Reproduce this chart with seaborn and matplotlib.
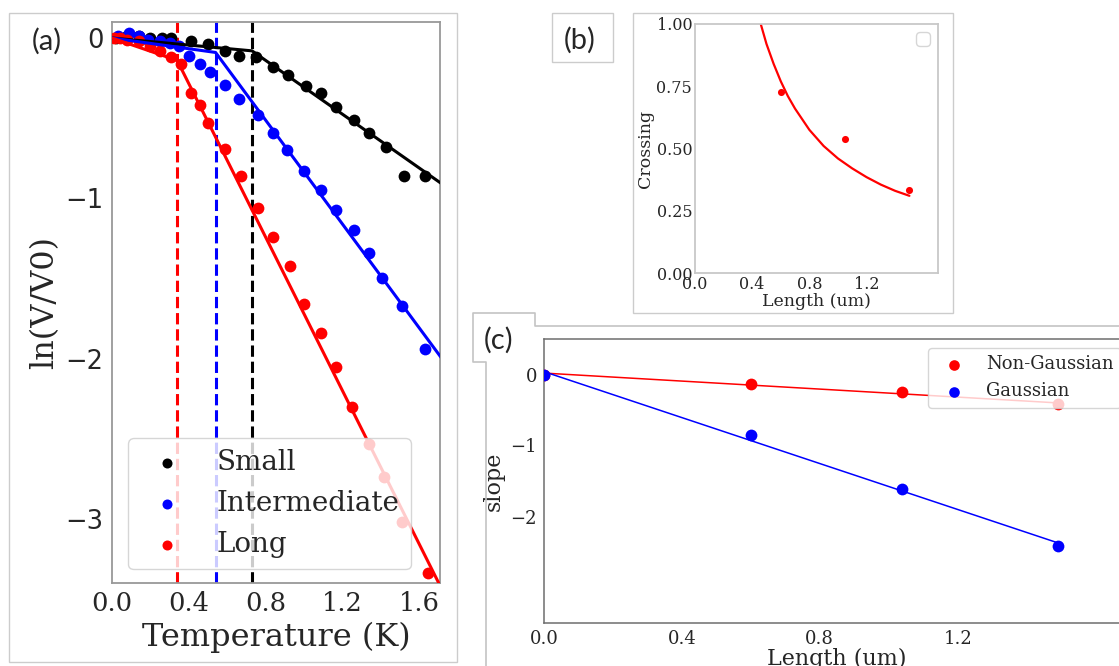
import matplotlib
matplotlib.use("Agg")
import matplotlib.pyplot as plt
import seaborn as sns
from matplotlib.lines import Line2D
from matplotlib.patches import Rectangle

sns.set_style("white")
plt.rcParams['font.family'] = ['DejaVu Serif']

# ---- panel (a): ln(V/V0) vs temperature
small_T = [0.02, 0.08, 0.14, 0.20, 0.26, 0.31, 0.41, 0.50, 0.59, 0.66, 0.75, 0.84, 0.92,
           1.01, 1.09, 1.17, 1.26, 1.34, 1.43, 1.52, 1.63]
small_v = [0.0, 0.01, 0.01, 0.0, 0.0, 0.0, -0.02, -0.04, -0.08, -0.11, -0.12, -0.18, -0.23,
           -0.30, -0.34, -0.43, -0.51, -0.59, -0.68, -0.86, -0.86]
inter_T = [0.03, 0.09, 0.14, 0.19, 0.25, 0.30, 0.35, 0.40, 0.46, 0.51, 0.59, 0.66, 0.76, 0.84,
           0.91, 1.00, 1.09, 1.17, 1.26, 1.34, 1.41, 1.51, 1.63]
inter_v = [0.01, 0.03, 0.01, -0.01, -0.02, -0.03, -0.05, -0.11, -0.16, -0.21, -0.29, -0.38,
           -0.48, -0.59, -0.70, -0.83, -0.95, -1.07, -1.20, -1.34, -1.50, -1.67, -1.94]
long_T = [0.01, 0.04, 0.08, 0.14, 0.20, 0.25, 0.31, 0.36, 0.41, 0.46, 0.50, 0.59, 0.67, 0.76,
          0.84, 0.93, 1.00, 1.09, 1.17, 1.25, 1.34, 1.42, 1.51, 1.65]
long_v = [0.0, 0.0, -0.01, -0.02, -0.05, -0.08, -0.12, -0.16, -0.34, -0.42, -0.53, -0.69,
          -0.86, -1.06, -1.24, -1.42, -1.66, -1.84, -2.05, -2.30, -2.53, -2.74, -3.02, -3.34]

small_fit_T = [0.0, 0.73, 1.72]
small_fit_v = [0.0, -0.08, -0.91]
inter_fit_T = [0.0, 0.54, 1.72]
inter_fit_v = [0.0, -0.09, -2.00]
long_fit_T = [0.0, 0.34, 1.72]
long_fit_v = [0.0, -0.14, -3.44]

crossing_T = [0.73, 0.54, 0.34]
series_names = ['Small', 'Intermediate', 'Long']
series_colors = ['black', 'blue', 'red']

# ---- panel (b): crossing vs length
cross_len = [0.60, 1.05, 1.50]
cross_val = [0.727, 0.54, 0.333]
cross_fit_len = [0.46, 0.50, 0.55, 0.60, 0.65, 0.70, 0.80, 0.90, 1.00, 1.10, 1.20, 1.30, 1.40, 1.50]
cross_fit_val = [1.00, 0.92, 0.84, 0.77, 0.71, 0.66, 0.575, 0.51, 0.46, 0.42, 0.385, 0.355, 0.33, 0.31]

# ---- panel (c): slope vs length
slope_len = [0.0, 0.60, 1.04, 1.49]
nongauss_slope = [0.0, -0.13, -0.25, -0.41]
gauss_slope = [0.0, -0.85, -1.61, -2.41]
slope_fit_len = [0.0, 1.49]
nongauss_fit = [0.02, -0.40]
gauss_fit = [0.04, -2.37]

W, H = 1119, 666
fig = plt.figure(figsize=(W / 100, H / 100), dpi=100)


def px_box(l, t, r, b):
    return [l / W, 1 - b / H, (r - l) / W, (b - t) / H]


def frame(l, t, r, b, color='#cccccc'):
    fig.add_artist(Rectangle((l / W, 1 - b / H), (r - l) / W, (b - t) / H,
                             transform=fig.transFigure, fill=False, ec=color, lw=1))


def polyline(pts, color='#c4c4c4'):
    fig.add_artist(Line2D([p[0] / W for p in pts], [1 - p[1] / H for p in pts],
                          transform=fig.transFigure, color=color, lw=1.2))


# frames of the composite
frame(9, 13, 457, 662)
frame(552, 13, 613, 62)
frame(633, 13, 953, 313)
polyline([(1125, 326), (535, 326), (535, 313), (473, 313), (473, 362), (486, 362), (486, 670)])

# ================= (a)
ax_a = fig.add_axes(px_box(112, 22, 440, 583))
a_T = [small_T, inter_T, long_T]
a_v = [small_v, inter_v, long_v]
a_fT = [small_fit_T, inter_fit_T, long_fit_T]
a_fv = [small_fit_v, inter_fit_v, long_fit_v]
for i in range(3):
    sns.scatterplot(x=a_T[i], y=a_v[i], ax=ax_a, color=series_colors[i], s=72,
                    linewidth=0, label=series_names[i], zorder=3)
for i in range(3):
    sns.lineplot(x=a_fT[i], y=a_fv[i], ax=ax_a, color=series_colors[i], lw=2.2,
                 legend=False, zorder=4)
    ax_a.axvline(crossing_T[i], color=series_colors[i], ls='--', lw=2.2, zorder=2)

ax_a.set_xlim(0, 1.71)
ax_a.set_ylim(-3.4, 0.1)
ax_a.set_xticks([0.0, 0.4, 0.8, 1.2, 1.6])
ax_a.set_yticks([0, -1, -2, -3])
ax_a.set_xticklabels(['0.0', '0.4', '0.8', '1.2', '1.6'], fontsize=18.5)
ax_a.set_yticklabels(['0', '\u22121', '\u22122', '\u22123'], fontsize=18.5,
                     family='DejaVu Sans')
ax_a.set_xlabel('Temperature (K)', fontsize=23)
ax_a.set_ylabel('ln(V/V0)', fontsize=23)
ax_a.tick_params(length=3, color='#999999', pad=3)
for sp in ax_a.spines.values():
    sp.set_color('#999999')
    sp.set_linewidth(1.3)
ax_a.legend(loc='lower center', bbox_to_anchor=(0.48, 0.0), fontsize=20,
            markerscale=0.85)

# ================= (b)
ax_b = fig.add_axes(px_box(695, 24, 938, 273))
sns.scatterplot(x=cross_len, y=cross_val, ax=ax_b, color='red', s=26, linewidth=0)
sns.lineplot(x=cross_fit_len, y=cross_fit_val, ax=ax_b, color='red', lw=1.6)
ax_b.set_xlim(0, 1.7)
ax_b.set_ylim(0, 1)
ax_b.set_xticks([0.0, 0.4, 0.8, 1.2])
ax_b.set_yticks([0.0, 0.25, 0.5, 0.75, 1.0])
ax_b.set_xticklabels(['0.0', '0.4', '0.8', '1.2'], fontsize=11.5)
ax_b.set_yticklabels(['0.00', '0.25', '0.50', '0.75', '1.00'], fontsize=11.5)
ax_b.set_xlabel('Length (um)', fontsize=12.5, labelpad=0)
ax_b.set_ylabel('Crossing', fontsize=12.5, labelpad=2)
ax_b.tick_params(length=0, pad=2)
for sp in ax_b.spines.values():
    sp.set_color('#c8c8c8')
    sp.set_linewidth(1.3)
ax_b.legend(handles=[], loc='upper right', fontsize=12)

# ================= (c)
ax_c = fig.add_axes(px_box(544, 339, 1130, 623))
sns.scatterplot(x=slope_len, y=nongauss_slope, ax=ax_c, color='red', s=72, linewidth=0,
                label='Non-Gaussian', zorder=3)
sns.scatterplot(x=slope_len, y=gauss_slope, ax=ax_c, color='blue', s=72, linewidth=0,
                label='Gaussian', zorder=3)
sns.lineplot(x=slope_fit_len, y=nongauss_fit, ax=ax_c, color='red', lw=1.1, legend=False)
sns.lineplot(x=slope_fit_len, y=gauss_fit, ax=ax_c, color='blue', lw=1.1, legend=False)
ax_c.set_xlim(0, 1.7)
ax_c.set_ylim(-3.5, 0.5)
ax_c.set_xticks([0.0, 0.4, 0.8, 1.2])
ax_c.set_yticks([0, -1, -2])
ax_c.set_xticklabels(['0.0', '0.4', '0.8', '1.2'], fontsize=13)
ax_c.set_yticklabels(['0', '\u22121', '\u22122'], fontsize=13)
ax_c.set_xlabel('Length (um)', fontsize=16, labelpad=0)
ax_c.set_ylabel('slope', fontsize=16)
ax_c.tick_params(length=3, color='#666666', pad=2)
for sp in ax_c.spines.values():
    sp.set_color('#6e6e6e')
    sp.set_linewidth(1.1)
ax_c.legend(loc='upper right', fontsize=13, markerscale=0.9)

# panel letters
for txt, x, y in [('(a)', 47, 41), ('(b)', 580, 40), ('(c)', 499, 340)]:
    fig.text(x / W, 1 - y / H, txt, fontsize=21, family=['Lato', 'DejaVu Sans'],
             ha='center', va='center')

fig.savefig('out.png', dpi=100)
